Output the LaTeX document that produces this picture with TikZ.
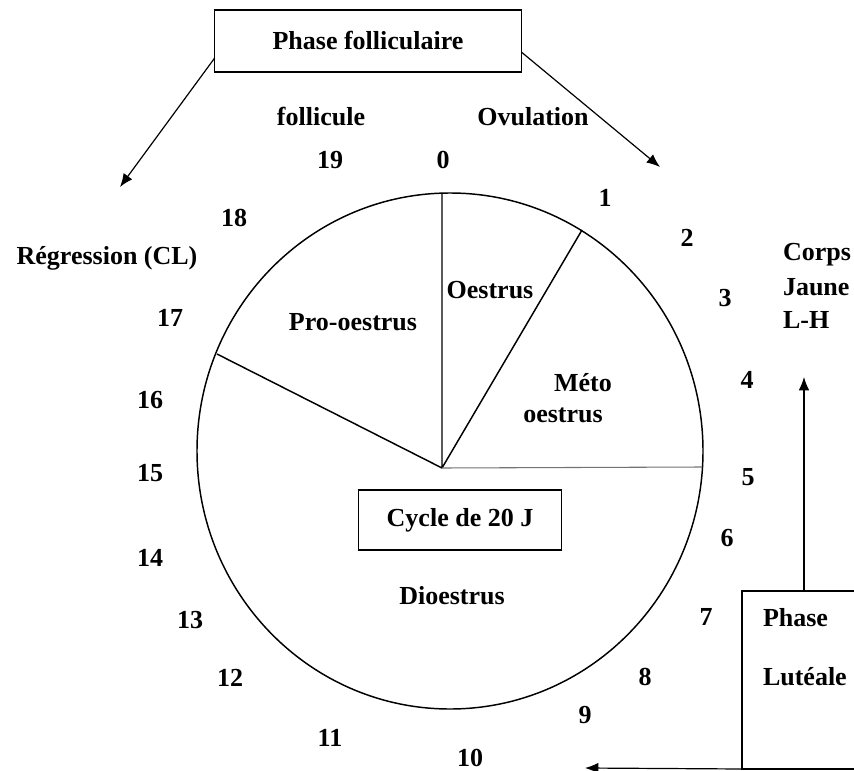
\documentclass[tikz,border=0pt]{standalone}
\usepackage{fontspec}
\setmainfont{Liberation Serif}
\usetikzlibrary{arrows.meta}

\begin{document}
\begin{tikzpicture}[x=0.75pt,y=-0.75pt,
 every node/.style={outer sep=0pt,inner sep=0pt,font=\fontsize{19.5}{23}\selectfont\bfseries},
 line/.style={line width=1.1pt},
 box/.style={draw,line width=1.1pt},
 arr/.style={line width=0.9pt,-{Latex[length=10pt,width=8pt]}}]
  \clip (0,0) rectangle (854,771);
  \fill[white] (0,0) rectangle (854,771);

  % le cycle
  \draw[line] (450,451) ellipse [x radius=189.75pt,y radius=193.5pt];
  \coordinate (J) at (442,468);
  \coordinate (top) at (442,193);
  \coordinate (oes) at (582,230);
  \coordinate (pro) at (217,354);
  \coordinate (met) at (702,467);
  \draw[line] (J) -- (top) (J) -- (oes) (J) -- (pro);
  \draw[line width=0.8pt,black!55] (J) -- (met);

  \node (oestrus) at (490,290) {Oestrus};
  \node (prooestrus) at (353,322) {Pro-oestrus};
  \node (meto) at (583,383) {Méto};
  \node (meto2) at (563,415) {oestrus};
  \node (dioestrus) at (452,596) {Dioestrus};
  \node[box,minimum width=152pt,minimum height=45pt] (cycle) at (460,520) {Cycle de 20 J};

  % les jours
  \foreach \n/\x/\y in {0/443/160,1/605/198,2/687/238,3/725/298,4/747/380,
    5/748/477,6/727/538,7/706/617,8/645/677,9/585/715,10/470/758,11/330/738,
    12/230/678,13/190/620,14/150/558,15/150/473,16/150/400,17/170/318,
    18/234/218,19/330/160}
  {\node (d\n) at (\x,\y) {\n};}

  \node (follicule) at (321,117) {follicule};
  \node (ovulation) at (533,117) {Ovulation};
  \node (regression) at (107,258) {Régression (CL)};
  \node[anchor=west] (corps) at (783,255) {Corps};
  \node[anchor=west] (jaune) at (783,287) {Jaune};
  \node[anchor=west] (lh) at (783,320) {L-H};

  % les phases
  \node[box,minimum width=230pt,minimum height=46.5pt] (fol) at (368,41) {Phase folliculaire};
  \node[box,minimum width=140pt,minimum height=133.5pt,anchor=north west] (lut) at (742,591) {};
  \node[anchor=west] (phase) at (763,618) {Phase};
  \node[anchor=west] (luteale) at (763,677) {Lutéale};

  \coordinate (reg) at (120,187);
  \coordinate (ovu) at (660,167);
  \coordinate (cj) at (804,377);
  \coordinate (dio) at (585,768);
  \draw[arr] ([yshift=10.5pt]fol.south west) -- (reg);
  \draw[arr] ([yshift=15pt]fol.south east) -- (ovu);
  \draw[arr] (lut.north -| cj) -- (cj);
  \draw[arr] (lut.south west) -- (dio);
\end{tikzpicture}
\end{document}
